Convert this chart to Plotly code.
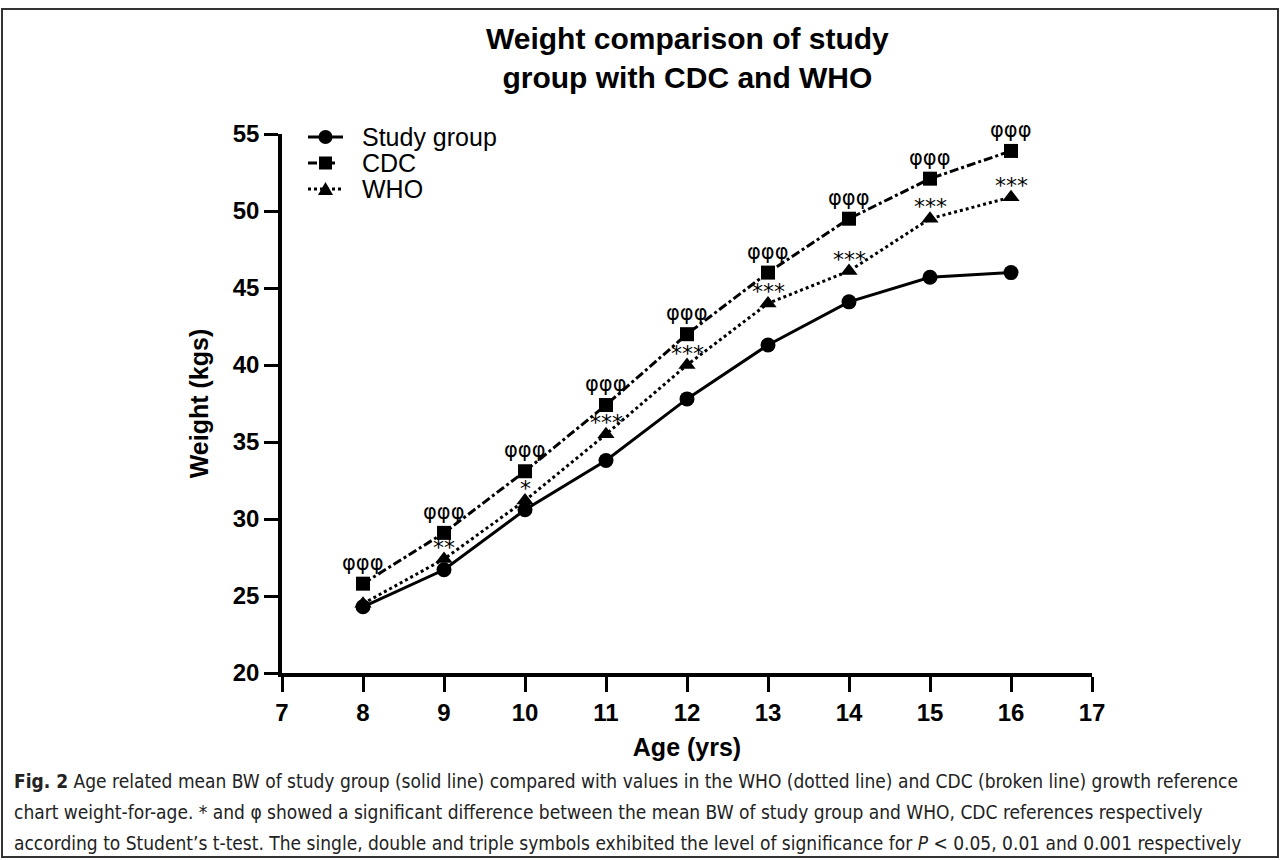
import plotly.graph_objects as go

ages = [8, 9, 10, 11, 12, 13, 14, 15, 16]
study = [24.3, 26.7, 30.6, 33.8, 37.8, 41.3, 44.1, 45.7, 46.0]
cdc = [25.8, 29.1, 33.1, 37.4, 42.0, 46.0, 49.5, 52.1, 53.9]
who = [24.5, 27.4, 31.2, 35.5, 40.0, 44.0, 46.1, 49.5, 50.9]
cdc_sig = ["φφφ"] * 9
who_sig = ["", "**", "*", "***", "***", "***", "***", "***", "***"]
series_names = ["Study group", "CDC", "WHO"]
x_ticks = list(range(7, 18))
y_ticks = list(range(20, 56, 5))

W, H = 1281, 860
L, R, T, B = 282, 1092, 134, 673
FONT = "Liberation Sans, Arial"


def px(xp):
    return (xp - L) / (R - L)


def py(yp):
    return (B - yp) / (B - T)


fig = go.Figure()
fig.add_trace(go.Scatter(
    x=ages, y=study, name=series_names[0], mode="lines+markers",
    line=dict(color="black", width=3, dash="solid"),
    marker=dict(symbol="circle", size=15, color="black")))
fig.add_trace(go.Scatter(
    x=ages, y=cdc, name=series_names[1], mode="lines+markers",
    line=dict(color="black", width=3, dash="dashdot"),
    marker=dict(symbol="square", size=14, color="black")))
fig.add_trace(go.Scatter(
    x=ages, y=who, name=series_names[2], mode="lines+markers",
    line=dict(color="black", width=3, dash="dot"),
    marker=dict(symbol="triangle-up", size=15, color="black")))

ann = []
for a, v, s in zip(ages, cdc, cdc_sig):
    if s:
        ann.append(dict(x=a, y=v, xref="x", yref="y", text=s, showarrow=False,
                        yshift=21, font=dict(family="DejaVu Sans", size=21, color="black")))
for a, v, s in zip(ages, who, who_sig):
    if s:
        ann.append(dict(x=a, y=v, xref="x", yref="y", text=s, showarrow=False,
                        yshift=12, font=dict(family="DejaVu Sans", size=22, color="black")))

# title
ann.append(dict(x=px(687), y=py(58), xref="paper", yref="paper",
                text="<b>Weight comparison of study<br>group with CDC and WHO</b>",
                showarrow=False, xanchor="center", yanchor="middle",
                font=dict(family=FONT, size=30, color="black")))

# legend (drawn manually to match the compact spacing)
leg_rows = [137, 163, 189]
shapes = []
for i, (name, yy) in enumerate(zip(series_names, leg_rows)):
    ann.append(dict(x=px(360), y=py(yy), xref="paper", yref="paper", text=name,
                    showarrow=False, xanchor="left", yanchor="middle",
                    font=dict(family=FONT, size=25, color="black")))
    dash = ["solid", "dash", "dot"][i]
    shapes.append(dict(type="line", xref="paper", yref="paper",
                       x0=px(308), x1=px(343), y0=py(yy), y1=py(yy),
                       line=dict(color="black", width=3, dash=dash)))
    cx, cy, r = 325.5, yy, 7
    if i == 0:
        shapes.append(dict(type="circle", xref="paper", yref="paper",
                           x0=px(cx - r), x1=px(cx + r), y0=py(cy + r), y1=py(cy - r),
                           fillcolor="black", line=dict(color="black", width=0)))
    elif i == 1:
        shapes.append(dict(type="rect", xref="paper", yref="paper",
                           x0=px(cx - 6.5), x1=px(cx + 6.5), y0=py(cy + 6.5), y1=py(cy - 6.5),
                           fillcolor="black", line=dict(color="black", width=0)))
    else:
        shapes.append(dict(type="path", xref="paper", yref="paper",
                           path=f"M {px(cx - 7.5)} {py(cy + 6)} L {px(cx + 7.5)} {py(cy + 6)} L {px(cx)} {py(cy - 7)} Z",
                           fillcolor="black", line=dict(color="black", width=0)))

caption_font = dict(family="Liberation Sans Narrow, DejaVu Sans Condensed, Arial Narrow, Noto Sans", size=19, color="#222")
captions = [
    "<b>Fig. 2</b> Age related mean BW of study group (solid line) compared with values in the WHO (dotted line) and CDC (broken line) growth reference",
    "chart weight-for-age. * and φ showed a significant difference between the mean BW of study group and WHO, CDC references respectively",
    "according to Student’s t-test. The single, double and triple symbols exhibited the level of significance for <i>P</i> < 0.05, 0.01 and 0.001 respectively",
]
for yy, c in zip([781, 812, 843], captions):
    ann.append(dict(x=px(12), y=py(yy), xref="paper", yref="paper", text=c,
                    showarrow=False, xanchor="left", yanchor="middle", font=caption_font))

shapes.append(dict(type="rect", xref="paper", yref="paper",
                   x0=px(2), x1=px(1278), y0=py(857), y1=py(9),
                   line=dict(color="#333", width=2), fillcolor="rgba(0,0,0,0)", layer="below"))

fig.update_layout(
    width=W, height=H,
    margin=dict(l=L, r=W - R, t=T, b=H - B, pad=0),
    paper_bgcolor="white", plot_bgcolor="white",
    showlegend=False,
    annotations=ann, shapes=shapes,
    xaxis=dict(range=[7, 17], tickvals=x_ticks, ticktext=[str(t) for t in x_ticks],
               showgrid=False, zeroline=False, showline=True, linecolor="black", linewidth=3.5,
               ticks="outside", ticklen=15, tickwidth=3, tickcolor="black",
               tickfont=dict(family=FONT, size=24, color="black", weight="bold"),
               title=dict(text="Age (yrs)", standoff=15,
                          font=dict(family=FONT, size=25, color="black", weight="bold"))),
    yaxis=dict(range=[20, 55], tickvals=y_ticks, ticktext=[str(t) for t in y_ticks],
               showgrid=False, zeroline=False, showline=True, linecolor="black", linewidth=3.5,
               ticks="outside", ticklen=14, tickwidth=3, tickcolor="black",
               tickfont=dict(family=FONT, size=24, color="black", weight="bold"),
               title=dict(text="Weight (kgs)", standoff=18,
                          font=dict(family=FONT, size=25, color="black", weight="bold"))),
)

fig.write_html("out.html", config={"displayModeBar": False},
               post_script="document.body.style.margin='0px';")
